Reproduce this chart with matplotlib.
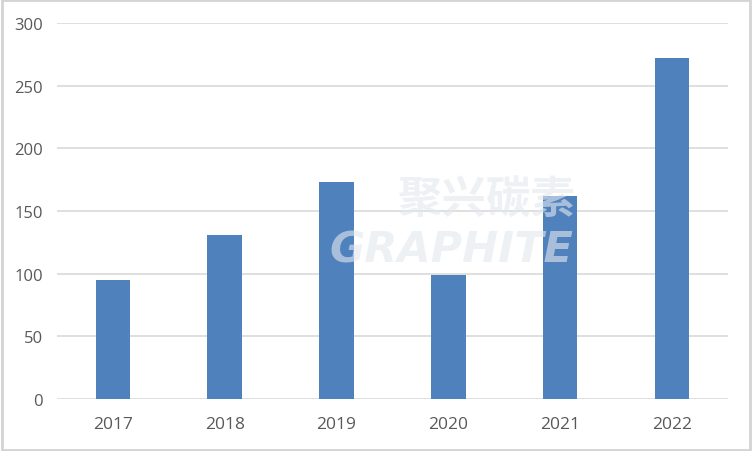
import matplotlib
matplotlib.use('Agg')
import matplotlib.pyplot as plt
from matplotlib.patches import Rectangle

plt.rcParams['font.family'] = ['Open Sans', 'Noto Sans CJK SC', 'DejaVu Sans']

years = ['2017', '2018', '2019', '2020', '2021', '2022']
values = [95, 131, 173, 99, 162, 272]
yticks = [0, 50, 100, 150, 200, 250, 300]

fig = plt.figure(figsize=(7.52, 4.52), dpi=100)
ax = fig.add_axes([0.0758, 0.115, 0.892, 0.832])

x = range(len(years))
ax.bar(x, values, width=0.31, color='#4f81bd', zorder=3)

ax.set_xlim(-0.5, len(years) - 0.5)
ax.set_ylim(0, 300)
ax.set_yticks(yticks)
ax.set_xticks(list(x))
ax.set_xticklabels(years)
ax.yaxis.grid(True, color='#d9d9d9', linewidth=1.2, zorder=0)
ax.set_axisbelow(True)
for s in ax.spines.values():
    s.set_visible(False)
ax.tick_params(length=0, labelsize=12, colors='#595959')
ax.tick_params(axis='x', labelsize=12.5, pad=12)
ax.tick_params(axis='y', pad=10)

# faint watermark
fig.text(0.647, 0.555, '聚兴碳素', fontsize=32, fontweight='bold', color='#e4e8ee',
         alpha=0.6, ha='center', va='center', zorder=10,
         family=['Noto Sans CJK SC', 'DejaVu Sans'])
fig.text(0.60, 0.445, 'GRAPHITE', fontsize=31, fontweight='bold', style='italic',
         color='#e4e8ee', alpha=0.6, ha='center', va='center', zorder=10,
         family=['DejaVu Sans'])

# light border round the image
fig.patches.append(Rectangle((0.002, 0.003), 0.996, 0.994, transform=fig.transFigure,
                             fill=False, edgecolor='#d4d4d4', linewidth=2))

fig.savefig('out.png', dpi=100, facecolor='white')
